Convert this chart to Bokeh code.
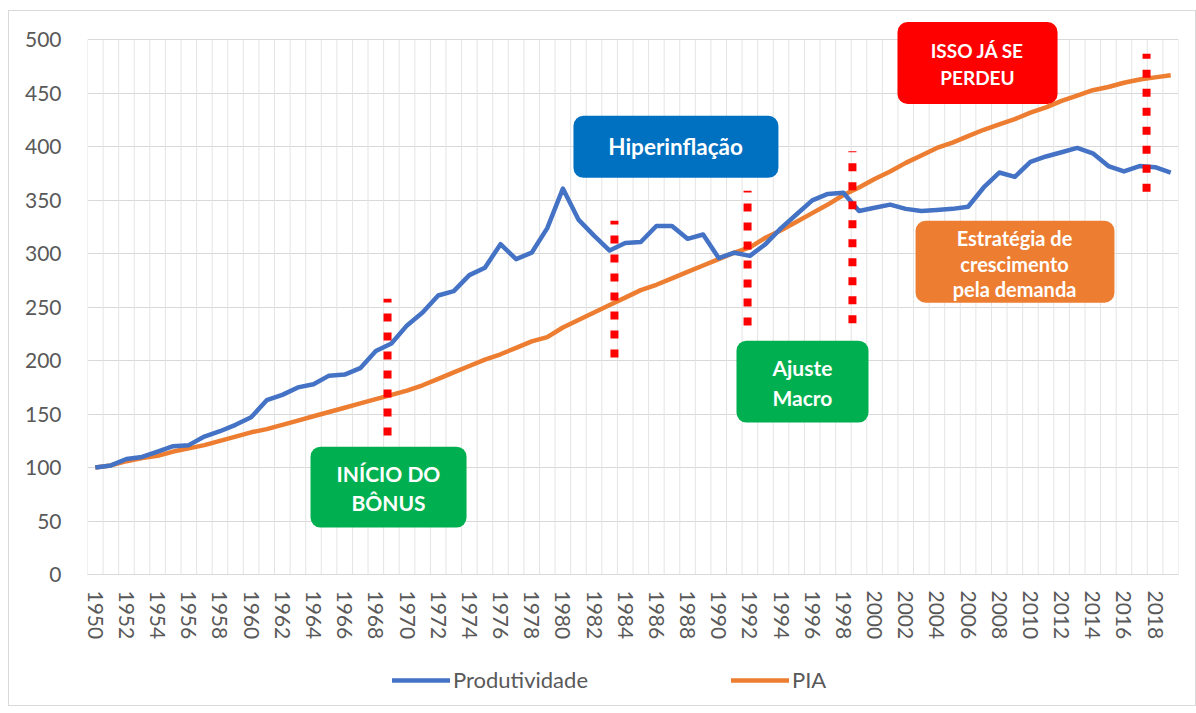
from bokeh.plotting import figure
from bokeh.layouts import column
from bokeh.models import (FixedTicker, BoxAnnotation, Legend, LegendItem, ColumnDataSource, Range1d, Label)
from bokeh.embed import file_html
from bokeh.resources import INLINE

# ---------------- data ----------------
years = list(range(1950, 2020))
produtividade = [100, 102, 108, 110, 115, 120, 121, 129, 134, 140,
                 147, 163, 168, 175, 178, 186, 187, 193, 209, 216,
                 233, 245, 261, 265, 280, 287, 309, 295, 301, 324,
                 361, 332, 317, 303, 310, 311, 326, 326, 314, 318,
                 296, 301, 298, 309, 324, 337, 350, 356, 357, 340,
                 343, 346, 342, 340, 341, 342, 344, 362, 376, 372,
                 386, 391, 395, 399, 394, 382, 377, 382, 381, 376]
pia = [100, 102, 106, 109, 111, 115, 118, 121, 125, 129,
       133, 136, 140, 144, 148, 152, 156, 160, 164, 168,
       172, 177, 183, 189, 195, 201, 206, 212, 218, 222,
       231, 238, 245, 252, 259, 266, 271, 277, 283, 289,
       295, 301, 306, 315, 322, 330, 338, 346, 355, 362,
       370, 377, 385, 392, 399, 404, 410, 416, 421, 426,
       432, 437, 443, 448, 453, 456, 460, 463, 465, 467]
series_names = ["Produtividade", "PIA"]
x_tick_years = list(range(1950, 2020, 2))
y_ticks = list(range(0, 501, 50))

# red dotted markers: (x position in years, y bottom, y top)
marker_x = [1968.75, 1983.31, 1991.85, 1998.58, 2017.45]
marker_y0 = [130, 203, 233, 235, 358]
marker_y1 = [258, 331, 359, 396, 487]

# callout boxes: left, right, top, bottom (data units), colour
box_left = [1963.81, 1980.68, 1991.14, 2001.47, 2002.63]
box_right = [1973.82, 1993.83, 1999.61, 2011.74, 2015.39]
box_top = [119.6, 429.0, 218.7, 516.8, 330.8]
box_bottom = [43.9, 371.0, 142.1, 440.2, 254.2]
box_color = ["#00B050", "#0070C0", "#00B050", "#FF0000", "#ED7D31"]

# callout text lines
text_lines = ["INÍCIO DO", "BÔNUS", "Hiperinflação", "Ajuste", "Macro",
              "ISSO JÁ SE", "PERDEU", "Estratégia de", "crescimento", "pela demanda"]
text_x = [1968.81, 1968.81, 1987.23, 1995.37, 1995.37,
          2006.60, 2006.60, 2008.98, 2008.98, 2008.98]
text_y = [94.4, 67.3, 400.0, 193.5, 165.4,
          489.7, 464.5, 315.0, 290.7, 267.3]
text_size = ["21px", "21px", "22.5px", "21px", "21px",
             "19px", "19px", "20px", "20px", "20px"]

FONT = "Lato"
GRAY = "#595959"
BLUE = "#4472C4"
ORANGE = "#ED7D31"

p = figure(width=1186, height=634, output_backend="svg", toolbar_location=None,
           x_range=Range1d(1949.5, 2019.5), y_range=Range1d(0, 521),
           min_border_left=78, min_border_top=6, min_border_right=17, min_border_bottom=71)
p.outline_line_color = None
p.background_fill_color = "white"
p.border_fill_color = "white"

# grids: vertical category lines only up to the 500 line
p.xgrid.visible = False
grid_x = [1949.5 + i for i in range(71)]
p.segment(x0=grid_x, y0=[0] * len(grid_x), x1=grid_x, y1=[500] * len(grid_x),
          line_color="#e4e4e4", line_width=1)
p.ygrid.ticker = FixedTicker(ticks=y_ticks)
p.ygrid.grid_line_color = "#d9d9d9"
p.ygrid.grid_line_width = 1

# axes
p.xaxis.ticker = FixedTicker(ticks=x_tick_years)
p.xaxis.major_label_orientation = "vertical"
p.xaxis.major_label_overrides = {y: str(y) for y in x_tick_years}
p.xaxis.major_tick_line_color = None
p.xaxis.minor_tick_line_color = None
p.xaxis.axis_line_color = "#d9d9d9"
p.xaxis.major_label_standoff = 10
p.xaxis.major_label_text_font = FONT
p.xaxis.major_label_text_font_size = "21px"
p.xaxis.major_label_text_color = GRAY

p.yaxis.ticker = FixedTicker(ticks=y_ticks)
p.yaxis.major_tick_line_color = None
p.yaxis.minor_tick_line_color = None
p.yaxis.axis_line_color = None
p.yaxis.major_label_standoff = 20
p.yaxis.major_label_text_font = FONT
p.yaxis.major_label_text_font_size = "21px"
p.yaxis.major_label_text_color = GRAY

# lines
src = ColumnDataSource(dict(x=years, prod=produtividade, pia=pia))
p.line("x", "pia", source=src, line_color=ORANGE, line_width=4.5, line_join="round")
p.line("x", "prod", source=src, line_color=BLUE, line_width=4.5, line_join="round")

# red dotted markers
p.segment(x0=marker_x, y0=marker_y0, x1=marker_x, y1=marker_y1,
          line_color="#FF0000", line_width=8, line_dash="8 11", line_cap="butt")

# callout boxes
for l, r, t, b, c in zip(box_left, box_right, box_top, box_bottom, box_color):
    p.add_layout(BoxAnnotation(left=l, right=r, top=t, bottom=b, fill_color=c, fill_alpha=1.0,
                               line_color=None, border_radius=10))

for t, x, y, s in zip(text_lines, text_x, text_y, text_size):
    p.add_layout(Label(x=x, y=y, text=t, text_font=FONT, text_font_style="bold",
                       text_font_size=s, text_color="white", text_align="center",
                       text_baseline="middle"))

# legend strip below the chart (same series, out of this strip's view range)
pl = figure(width=1186, height=60, output_backend="svg", toolbar_location=None,
            x_range=Range1d(0, 1), y_range=Range1d(0, 1),
            x_axis_type=None, y_axis_type=None, min_border=0)
pl.outline_line_color = None
pl.xgrid.visible = False
pl.ygrid.visible = False
l_prod = pl.line("x", "prod", source=src, line_color=BLUE, line_width=4.5, line_cap="round")
l_pia = pl.line("x", "pia", source=src, line_color=ORANGE, line_width=4.5, line_cap="round")
legend = Legend(items=[LegendItem(label=series_names[0], renderers=[l_prod]),
                       LegendItem(label=series_names[1], renderers=[l_pia])],
                orientation="horizontal", location=(305, 12), spacing=143,
                glyph_width=58, glyph_height=20, label_standoff=3,
                label_text_font=FONT, label_text_font_size="22px", label_text_color=GRAY,
                border_line_color=None, background_fill_alpha=0, padding=0, margin=0)
pl.add_layout(legend, "center")

layout = column(p, pl, spacing=0)
layout.margin = (10, 0, 0, 8)
layout.styles = {"border": "1px solid #d9d9d9"}

open("out.html", "w").write(file_html(layout, INLINE))
